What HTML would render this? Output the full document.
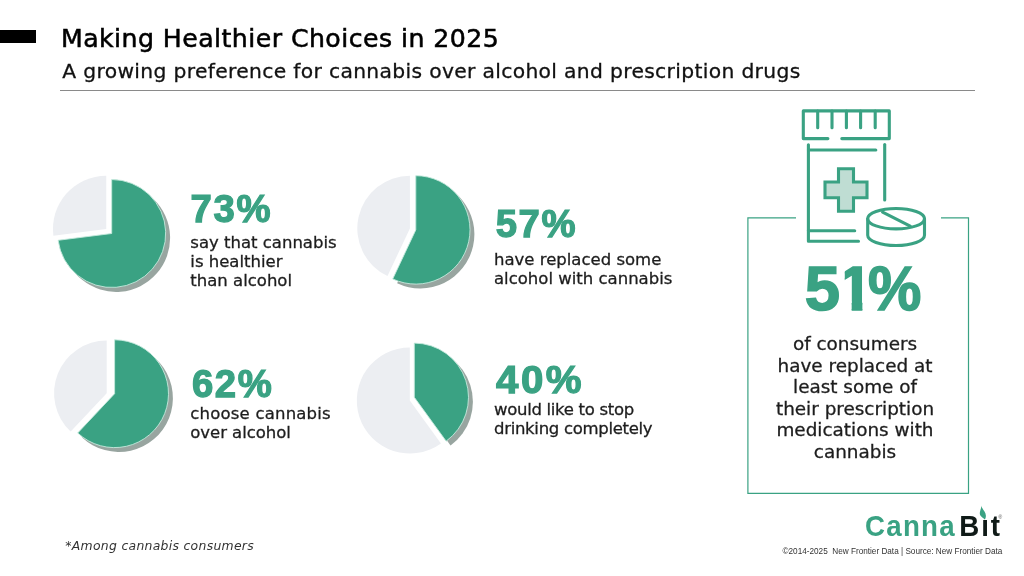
<!DOCTYPE html>
<html lang="en">
<head>
<meta charset="utf-8">
<title>Making Healthier Choices in 2025</title>
<style>
html,body{margin:0;padding:0;background:#fff;}
body{width:1024px;height:576px;position:relative;overflow:hidden;font-family:"DejaVu Sans","Liberation Sans",sans-serif;color:#1d1d1d;}
.abs{position:absolute;white-space:nowrap;}
.bar{left:0;top:29.7px;width:36.2px;height:13.8px;background:#000;}
.title{left:61px;top:20.8px;font-size:25.2px;line-height:36px;letter-spacing:0.45px;color:#000;-webkit-text-stroke:0.55px #000;}
.sub{left:62.3px;top:56.3px;font-size:20.3px;line-height:30px;letter-spacing:0.33px;color:#111;-webkit-text-stroke:0.3px #111;}
.hr{left:60px;top:90.4px;width:915px;height:1.1px;background:#8a8a8a;}
.num{font-family:"Liberation Sans",sans-serif;font-weight:bold;color:#3aa283;font-size:38.3px;line-height:40px;-webkit-text-stroke:1.25px #3aa283;letter-spacing:1.6px;}
.txt{font-size:16.5px;line-height:19.4px;letter-spacing:0;color:#1d1d1d;white-space:nowrap;-webkit-text-stroke:0.3px #1d1d1d;}
.big{font-family:"Liberation Sans",sans-serif;font-weight:bold;color:#3aa283;font-size:63.5px;line-height:66px;-webkit-text-stroke:1.5px #3aa283;top:255.25px;}
.big span{display:inline-block;vertical-align:top;height:66px;}
.big .one{margin-left:-2.2px;clip-path:polygon(7px 0,24.6px 0,24.6px 66px,13.9px 66px,13.9px 46.3px,7px 46.3px);}
.big .pc{margin-left:-8.1px;transform:scaleX(0.945);transform-origin:100% 50%;}
.ptxt{left:744.5px;width:221px;text-align:center;top:333px;font-size:18.4px;line-height:21.5px;white-space:nowrap;color:#1d1d1d;-webkit-text-stroke:0.3px #1d1d1d;}
.note{left:65.3px;top:537.5px;font-size:12.4px;line-height:16px;font-style:italic;color:#333;letter-spacing:0.3px;}
.logo{font-family:"Liberation Sans",sans-serif;font-weight:bold;font-size:29.8px;line-height:30px;left:865.3px;top:511.3px;color:#3aa283;letter-spacing:1.35px;transform:scaleX(0.93);transform-origin:0 50%;}
.logo b{color:#0f1a17;font-weight:bold;margin-left:3.6px;letter-spacing:2px;}
.reg{font-family:"Liberation Sans",sans-serif;font-size:5px;line-height:6px;left:998.6px;top:513.6px;color:#555;}
.copy{font-family:"Liberation Sans",sans-serif;font-size:8.2px;line-height:10px;right:21.7px;top:547px;color:#333;white-space:pre;}
</style>
</head>
<body>
<div class="abs bar"></div>
<div class="abs title">Making Healthier Choices in 2025</div>
<div class="abs sub">A growing preference for cannabis over alcohol and prescription drugs</div>
<div class="abs hr"></div>

<svg class="abs" style="left:0;top:0" width="1024" height="576" viewBox="0 0 1024 576">
<path d="M106.25 229.00L53.37 235.68A53.30 53.30 0 0 1 106.25 175.70Z" fill="#eceef2"/>
<path d="M116.10 237.90L116.10 183.90A54.00 54.00 0 1 1 62.53 244.67Z" fill="#98a5a0"/>
<path d="M111.70 233.50L111.70 179.50A54.00 54.00 0 1 1 58.13 240.27Z" fill="#3aa283" stroke="#c4eadd" stroke-width="0.9"/>
<path d="M409.90 228.40L387.50 275.99A52.60 52.60 0 0 1 409.90 175.80Z" fill="#eceef2"/>
<path d="M420.20 234.30L420.20 180.10A54.20 54.20 0 1 1 397.12 283.34Z" fill="#98a5a0"/>
<path d="M415.80 229.90L415.80 175.70A54.20 54.20 0 1 1 392.72 278.94Z" fill="#3aa283" stroke="#c4eadd" stroke-width="0.9"/>
<path d="M106.70 393.20L70.69 431.54A52.60 52.60 0 0 1 106.70 340.60Z" fill="#eceef2"/>
<path d="M119.00 398.10L119.00 344.20A53.90 53.90 0 1 1 82.10 437.39Z" fill="#98a5a0"/>
<path d="M114.60 393.70L114.60 339.80A53.90 53.90 0 1 1 77.70 432.99Z" fill="#3aa283" stroke="#c4eadd" stroke-width="0.9"/>
<path d="M409.80 400.50L440.95 443.38A53.00 53.00 0 1 1 409.80 347.50Z" fill="#eceef2"/>
<path d="M418.70 401.70L418.70 347.50A54.20 54.20 0 0 1 450.56 445.55Z" fill="#98a5a0"/>
<path d="M414.30 397.30L414.30 343.10A54.20 54.20 0 0 1 446.16 441.15Z" fill="#3aa283" stroke="#c4eadd" stroke-width="0.9"/>
<!-- frame -->
<path d="M796 217.8H747.9V493.3H968.5V217.8H941" fill="none" stroke="#3aa283" stroke-width="1.2"/>
<!-- bottle icon -->
<g fill="none" stroke="#3aa283" stroke-width="3.1" stroke-linecap="round" stroke-linejoin="round">
<path d="M827.9 138.6H803.3V110.9H889.3V138.6H841.8"/>
<path d="M817.7 111V127.7M832 111V127.7M846.4 111V127.7M860.6 111V127.7M875.2 111V127.7"/>
<path d="M808.4 144.8V241.2H858.5"/>
<path d="M884.7 144.5V200"/>
<path d="M808.4 150H875.8"/>
<path d="M808.4 230.8H854.7"/>
<path d="M838.5 168.8H853.5V182H867V197.7H853.5V211.2H838.5V197.7H825V182H838.5Z" fill="#bfddd3" stroke-linejoin="miter"/>
<ellipse cx="896.1" cy="218.7" rx="28.4" ry="10.2" fill="#fff"/>
<path d="M867.7 218.7V235.3A28.4 10.2 0 0 0 924.5 235.3V218.7"/>
<path d="M882.6 212.2L910.2 226.2"/>
</g>
<!-- leaf on logo -->
</svg>

<div class="abs num" style="left:190.6px;top:188.8px">73%</div>
<div class="abs txt" style="left:190.3px;top:232.5px">say that cannabis<br>is healthier<br>than alcohol</div>

<div class="abs num" style="left:495.7px;top:204.2px">57%</div>
<div class="abs txt" style="left:494px;top:250px">have replaced some<br>alcohol with cannabis</div>

<div class="abs num" style="left:191.9px;top:363.9px">62%</div>
<div class="abs txt" style="left:190.3px;top:403.8px;letter-spacing:0.2px">choose cannabis<br><span style="letter-spacing:-0.05px">over alcohol</span></div>

<div class="abs num" style="left:495.6px;top:359.5px;letter-spacing:2.4px;transform:scaleX(1.05);transform-origin:0 50%">40%</div>
<div class="abs txt" style="left:494px;top:399.7px;letter-spacing:-0.3px">would like to stop<br>drinking completely</div>

<div class="abs big" style="left:804.65px"><span>5</span><span class="one">1</span><span class="pc">%</span></div>
<div class="abs ptxt">of consumers<br>have replaced at<br>least some of<br>their prescription<br>medications with<br>cannabis</div>

<div class="abs note">*Among cannabis consumers</div>
<div class="abs logo">Canna<b>Bit</b></div>
<svg class="abs" style="left:970px;top:500px" width="54" height="30" viewBox="970 500 54 30">
<rect x="981.5" y="509" width="8.5" height="8.7" fill="#fff"/>
<path d="M981.3 505.6C981.6 509 986 511.5 985.9 516C985.8 518 985.3 519 984.8 519.5C983.5 518 979.8 516.5 979.8 513.5C979.8 510.5 981.4 508.5 981.3 505.6Z" fill="#3aa283"/>
</svg>
<div class="abs reg">®</div>
<div class="abs copy">©2014-2025  New Frontier Data | Source: New Frontier Data</div>
</body>
</html>
